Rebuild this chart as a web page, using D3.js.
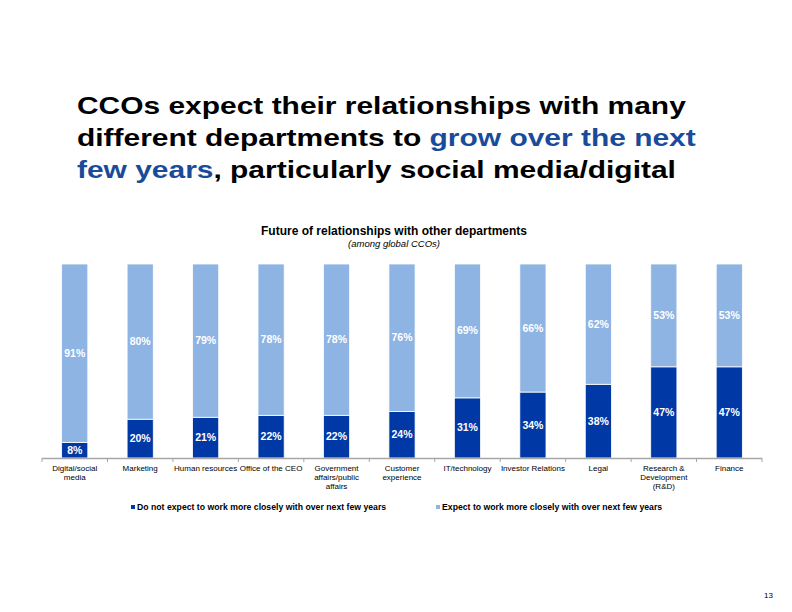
<!DOCTYPE html>
<html>
<head>
<meta charset="utf-8">
<script src="https://cdn.jsdelivr.net/npm/d3@7"></script>
<style>
  body { margin: 0; background: #fff; }
  svg { font-family: "Liberation Sans", Arial, sans-serif; }
</style>
</head>
<body>
<div id="chart"></div>
<script>
// chart data
const departments = [
  ["Digital/social", "media"],
  ["Marketing"],
  ["Human resources"],
  ["Office of the CEO"],
  ["Government", "affairs/public", "affairs"],
  ["Customer", "experience"],
  ["IT/technology"],
  ["Investor Relations"],
  ["Legal"],
  ["Research &", "Development", "(R&D)"],
  ["Finance"]
];
const doNotExpect = [8, 20, 21, 22, 22, 24, 31, 34, 38, 47, 47];
const expectCloser = [91, 80, 79, 78, 78, 76, 69, 66, 62, 53, 53];
const seriesNames = [
  "Do not expect to work more closely with over next few years",
  "Expect to work more closely with over next few years"
];

const width = 792;
const height = 612;
const margin = {left: 42, right: 30, top: 264, bottom: 154};
const colors = ["#0039a6", "#8eb4e3"];

const svg = d3.select("#chart")
  .append("svg")
  .attr("width", width)
  .attr("height", height);

// slide title, three lines, part of it in blue
// the slide font is wider than ours, so stretch it sideways to fit
const titleLines = [
  [["CCOs expect their relationships with many", "#000"]],
  [["different departments to ", "#000"], ["grow over the next", "#1a4b9b"]],
  [["few years", "#1a4b9b"], [", particularly social media/digital", "#000"]]
];
const titleG = svg.append("g");
const title = titleG.append("text")
  .attr("font-size", "24px")
  .attr("font-weight", "bold");
titleLines.forEach((parts, i) => {
  parts.forEach((p, j) => {
    const t = title.append("tspan").text(p[0]).attr("fill", p[1]);
    if (j === 0) t.attr("x", 0).attr("y", 114 + i * 32);
  });
});
const firstLen = title.select("tspan").node().getComputedTextLength();
titleG.attr("transform", `translate(77,0) scale(${609 / firstLen},1)`);

svg.append("text")
  .attr("x", 394).attr("y", 235)
  .attr("text-anchor", "middle")
  .attr("font-size", "12px")
  .attr("font-weight", "bold")
  .text("Future of relationships with other departments");

svg.append("text")
  .attr("x", 394).attr("y", 247)
  .attr("text-anchor", "middle")
  .attr("font-size", "9.5px")
  .attr("font-style", "italic")
  .text("(among global CCOs)");

// table for the stack
const rows = departments.map((d, i) => ({
  i: i,
  dark: doNotExpect[i],
  light: expectCloser[i]
}));

const stack = d3.stack()
  .keys(["dark", "light"])
  .offset(d3.stackOffsetExpand);
const layers = stack(rows);

const xScale = d3.scaleBand()
  .domain(d3.range(departments.length))
  .range([margin.left, width - margin.right])
  .paddingInner(0.6)
  .paddingOuter(0.3);

const yScale = d3.scaleLinear()
  .domain([0, 1])
  .range([height - margin.bottom, margin.top]);

const layerG = svg.selectAll(".layer")
  .data(layers)
  .enter()
  .append("g")
  .attr("class", "layer")
  .attr("fill", (d, i) => colors[i]);

layerG.selectAll("rect")
  .data(d => d)
  .enter()
  .append("rect")
  .attr("x", d => xScale(d.data.i))
  .attr("y", d => yScale(d[1]))
  .attr("height", d => yScale(d[0]) - yScale(d[1]))
  .attr("width", xScale.bandwidth())
  .attr("stroke", "#fff")
  .attr("stroke-width", 0.8);

// value labels, white, centered in each segment
layers.forEach((layer, k) => {
  const vals = k === 0 ? doNotExpect : expectCloser;
  svg.append("g")
    .selectAll("text")
    .data(layer)
    .enter()
    .append("text")
    .attr("x", d => xScale(d.data.i) + xScale.bandwidth() / 2)
    .attr("y", d => (yScale(d[0]) + yScale(d[1])) / 2 + 3.5)
    .attr("text-anchor", "middle")
    .attr("font-size", "10.5px")
    .attr("font-weight", "bold")
    .attr("fill", "#fff")
    .text((d, i) => vals[i] + "%");
});

// x axis with ticks between categories
const axisY = height - margin.bottom;
const step = xScale.step();
const axisG = svg.append("g").attr("stroke", "#a6a6a6");
axisG.append("line")
  .attr("x1", margin.left).attr("x2", width - margin.right)
  .attr("y1", axisY + 0.5).attr("y2", axisY + 0.5)
  .attr("stroke-width", 1.5);
axisG.selectAll(".tick")
  .data(d3.range(departments.length + 1))
  .enter()
  .append("line")
  .attr("x1", i => margin.left + i * step)
  .attr("x2", i => margin.left + i * step)
  .attr("y1", axisY)
  .attr("y2", axisY + 4)
  .attr("stroke-width", 1);

const labelG = svg.append("g");
departments.forEach((lines, i) => {
  const t = labelG.append("text")
    .attr("text-anchor", "middle")
    .attr("font-size", "8px")
    .attr("fill", "#000");
  lines.forEach((line, j) => {
    t.append("tspan")
      .attr("x", xScale(i) + xScale.bandwidth() / 2)
      .attr("y", axisY + 13 + j * 9)
      .text(line);
  });
});

// legend
const legendX = [131, 436];
seriesNames.forEach((name, i) => {
  svg.append("rect")
    .attr("x", legendX[i]).attr("y", 505)
    .attr("width", 4).attr("height", 4)
    .attr("fill", colors[i]);
  svg.append("text")
    .attr("x", legendX[i] + 6).attr("y", 510)
    .attr("font-size", "8.7px")
    .attr("font-weight", "bold")
    .text(name);
});

// page number
svg.append("text")
  .attr("x", 773).attr("y", 598)
  .attr("text-anchor", "end")
  .attr("font-size", "8px")
  .text("13");
</script>
</body>
</html>
